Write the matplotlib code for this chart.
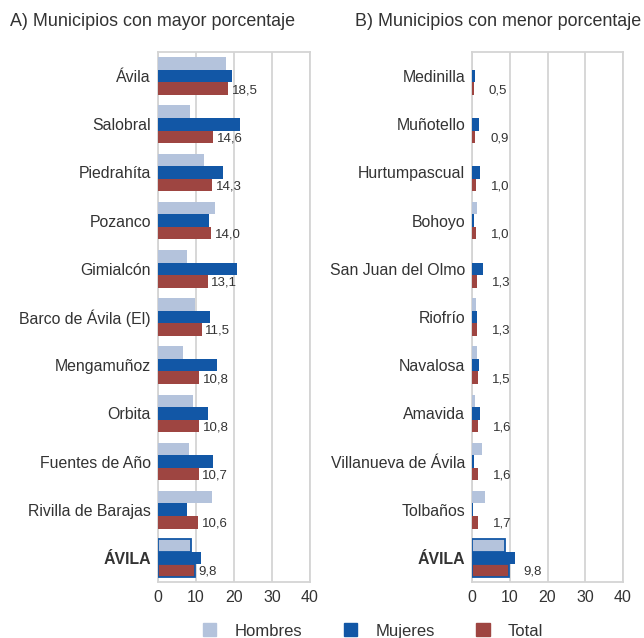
import numpy as np
import matplotlib
matplotlib.use("Agg")
import matplotlib.pyplot as plt
from matplotlib.patches import Patch

plt.rcParams['font.family'] = ['Liberation Sans', 'DejaVu Sans']

# A) municipios con mayor porcentaje
may_names = ['Ávila', 'Salobral', 'Piedrahíta', 'Pozanco', 'Gimialcón',
             'Barco de Ávila (El)', 'Mengamuñoz', 'Orbita', 'Fuentes de Año',
             'Rivilla de Barajas', 'ÁVILA']
may_hombres = [17.9, 8.4, 12.1, 15.0, 7.6, 9.7, 6.6, 9.1, 8.1, 14.3, 8.8]
may_mujeres = [19.6, 21.6, 17.2, 13.3, 20.7, 13.8, 15.5, 13.1, 14.4, 7.5, 11.3]
may_total = [18.5, 14.6, 14.3, 14.0, 13.1, 11.5, 10.8, 10.8, 10.7, 10.6, 9.8]

# B) municipios con menor porcentaje
men_names = ['Medinilla', 'Muñotello', 'Hurtumpascual', 'Bohoyo',
             'San Juan del Olmo', 'Riofrío', 'Navalosa', 'Amavida',
             'Villanueva de Ávila', 'Tolbaños', 'ÁVILA']
men_hombres = [0.1, 0.1, 0.1, 1.3, 0.1, 1.1, 1.2, 0.9, 2.6, 3.4, 8.8]
men_mujeres = [0.9, 1.8, 2.1, 0.4, 2.8, 1.4, 1.8, 2.1, 0.5, 0.2, 11.3]
men_total = [0.5, 0.9, 1.0, 1.0, 1.3, 1.3, 1.5, 1.6, 1.6, 1.7, 9.8]

xticks = [0, 10, 20, 30, 40]

c_hom = '#b4c3dc'
c_muj = '#1257a6'
c_tot = '#9e4541'
c_grid = '#d4d4d4'
c_text = '#333333'

fig = plt.figure(figsize=(6.44, 6.38), dpi=100)
ax_a = fig.add_axes([158 / 644, 1 - 582 / 638, 152 / 644, 530 / 638])
ax_b = fig.add_axes([472 / 644, 1 - 582 / 638, 151 / 644, 530 / 638])


def draw_panel(ax, names, hom, muj, tot, lab_off):
    y = np.arange(len(names))
    h = 0.26
    ax.barh(y - h, hom, height=h, color=c_hom, zorder=3)
    ax.barh(y, muj, height=h, color=c_muj, zorder=3)
    ax.barh(y + h, tot, height=h, color=c_tot, zorder=3)
    # recuadro del total provincial
    last = len(names) - 1
    ax.barh(last - h, hom[last], height=h, color='none', edgecolor=c_muj,
            linewidth=1.3, zorder=4)
    ax.barh(last + h, tot[last], height=h, color='none', edgecolor=c_muj,
            linewidth=1.3, zorder=4)
    for yi, v in zip(y, tot):
        ax.text(v + lab_off, yi + h + 0.03, f'{v:.1f}'.replace('.', ','),
                va='center', ha='left', fontsize=9.5, color=c_text)
    ax.set_xlim(0, 40)
    ax.set_ylim(len(names) - 0.5, -0.5)
    ax.set_xticks(xticks)
    ax.set_xticklabels([str(t) for t in xticks], fontsize=11.5, color=c_text)
    ax.set_yticks(y)
    ax.set_yticklabels(names, fontsize=11.4, color=c_text)
    ax.get_yticklabels()[-1].set_fontweight('bold')
    ax.tick_params(length=0, pad=5)
    ax.tick_params(axis='x', pad=6)
    ax.grid(axis='x', color=c_grid, linewidth=1.3, zorder=0)
    for s in ax.spines.values():
        s.set_color(c_grid)
        s.set_linewidth(1.3)


draw_panel(ax_a, may_names, may_hombres, may_mujeres, may_total, 0.9)
draw_panel(ax_b, men_names, men_hombres, men_mujeres, men_total, 3.9)

fig.text(10 / 644, 1 - 22 / 638, 'A) Municipios con mayor porcentaje',
         fontsize=12.9, color=c_text, va='center', ha='left')
fig.text(355 / 644, 1 - 22 / 638, 'B) Municipios con menor porcentaje',
         fontsize=12.9, color=c_text, va='center', ha='left')

handles = [Patch(color=c_hom, label='Hombres'),
           Patch(color=c_muj, label='Mujeres'),
           Patch(color=c_tot, label='Total')]
fig.legend(handles=handles, loc='center', bbox_to_anchor=(373 / 644, 1 - 631 / 638),
           ncol=3, frameon=False, fontsize=12, handlelength=0.8, handleheight=0.8,
           columnspacing=2.5, handletextpad=1.1, labelcolor=c_text)

fig.savefig('out.png', dpi=100)
